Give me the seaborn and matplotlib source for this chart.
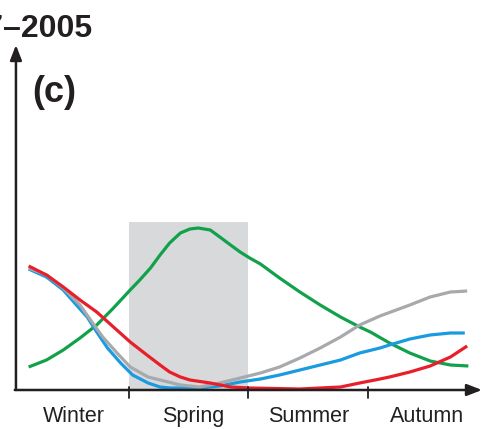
import numpy as np
import pandas as pd
import matplotlib
matplotlib.use("Agg")
import matplotlib.pyplot as plt
import seaborn as sns

# x in seasons (0 = start of winter, 1 = start of spring, ...), y in relative units
green_x = [0.16, 0.31, 0.45, 0.59, 0.73, 0.87, 1.01, 1.09, 1.18, 1.26, 1.34,
           1.43, 1.51, 1.58, 1.68, 1.76, 1.85, 1.93, 2.01, 2.10, 2.26, 2.43,
           2.60, 2.77, 2.93, 3.02, 3.18, 3.35, 3.52, 3.69, 3.84]
green_y = [0.23, 0.30, 0.40, 0.52, 0.65, 0.82, 1.00, 1.10, 1.22, 1.35, 1.47,
           1.57, 1.61, 1.62, 1.60, 1.53, 1.45, 1.38, 1.32, 1.26, 1.12, 0.98,
           0.85, 0.73, 0.63, 0.58, 0.47, 0.37, 0.29, 0.25, 0.24]

blue_x = [0.16, 0.31, 0.45, 0.56, 0.65, 0.73, 0.82, 0.93, 1.03, 1.16, 1.26,
          1.34, 1.59, 1.76, 1.93, 2.10, 2.26, 2.43, 2.60, 2.77, 2.93, 3.10,
          3.18, 3.35, 3.52, 3.69, 3.81]
blue_y = [1.21, 1.13, 1.00, 0.85, 0.73, 0.58, 0.42, 0.27, 0.15, 0.07, 0.03,
          0.02, 0.02, 0.04, 0.08, 0.11, 0.15, 0.20, 0.25, 0.30, 0.37, 0.42,
          0.45, 0.51, 0.55, 0.57, 0.57]

gray_x = [0.16, 0.31, 0.45, 0.59, 0.69, 0.78, 0.90, 1.01, 1.16, 1.26, 1.43,
          1.59, 1.76, 1.93, 2.10, 2.26, 2.43, 2.60, 2.77, 2.93, 3.10, 3.35,
          3.52, 3.69, 3.83]
gray_y = [1.22, 1.15, 1.02, 0.85, 0.68, 0.53, 0.37, 0.23, 0.13, 0.10, 0.05,
          0.03, 0.07, 0.12, 0.17, 0.23, 0.32, 0.42, 0.53, 0.65, 0.74, 0.85,
          0.93, 0.98, 0.99]

red_x = [0.16, 0.31, 0.45, 0.59, 0.73, 0.87, 1.01, 1.15, 1.26, 1.34, 1.43,
         1.51, 1.68, 1.85, 2.01, 2.43, 2.77, 2.93, 3.10, 3.18, 3.35, 3.52,
         3.69, 3.83]
red_y = [1.24, 1.15, 1.03, 0.90, 0.78, 0.63, 0.48, 0.35, 0.25, 0.18, 0.13,
         0.10, 0.07, 0.03, 0.02, 0.01, 0.03, 0.07, 0.11, 0.13, 0.18, 0.24,
         0.33, 0.44]

seasons = ["Winter", "Spring", "Summer", "Autumn"]
season_label_x = [0.54, 1.535, 2.50, 3.49]
season_bounds = [1, 2, 3]
spring_band = (1, 2)
band_top = 1.68

colors = {"green": "#12a14b", "blue": "#1a9be0", "gray": "#a8a9ac", "red": "#e81f2b"}

df = pd.concat([
    pd.DataFrame({"x": green_x, "y": green_y, "series": "green"}),
    pd.DataFrame({"x": blue_x, "y": blue_y, "series": "blue"}),
    pd.DataFrame({"x": gray_x, "y": gray_y, "series": "gray"}),
    pd.DataFrame({"x": red_x, "y": red_y, "series": "red"}),
])

sns.set_style("white")
plt.rcParams["font.family"] = ["Liberation Sans", "DejaVu Sans"]

fig = plt.figure(figsize=(4.82, 4.29), dpi=100)
ax = fig.add_axes([0, 0, 1, 1])
ax.set_xlim(-0.0795, 3.954)
ax.set_ylim(-0.39, 3.90)
ax.axis("off")

# shaded spring band
ax.fill_between(list(spring_band), 0, band_top, color="#d8d9db", lw=0, zorder=1)

sns.lineplot(data=df, x="x", y="y", hue="series", palette=colors,
             estimator=None, sort=True, lw=2.3, legend=False, ax=ax, zorder=3)
for line in ax.lines:
    line.set_solid_capstyle("butt")
    line.set_solid_joinstyle("round")

# axes with arrows
x0 = 0.054
arrow = dict(arrowstyle="-|>,head_length=0.9,head_width=0.35", color="#231f20", lw=1.8,
             shrinkA=0, shrinkB=0)
ax.annotate("", xy=(x0, 3.45), xytext=(x0, 0), arrowprops=arrow, zorder=4)
ax.annotate("", xy=(3.954, 0), xytext=(x0 - 0.01, 0), arrowprops=arrow, zorder=4)
for b in season_bounds:
    ax.plot([b, b], [0.03, -0.08], color="#231f20", lw=1.3, zorder=4)

for lx, s in zip(season_label_x, seasons):
    ax.text(lx, -0.265, s, ha="center", va="center", fontsize=15.5, color="#231f20")

ax.text(0.695, 3.53, "1997–2005", ha="right", va="baseline", fontsize=23,
        fontweight="bold", color="#231f20")
ax.text(0.188, 2.88, "(c)", ha="left", va="baseline", fontsize=26,
        fontweight="bold", color="#231f20")

fig.savefig("out.png", dpi=100)
